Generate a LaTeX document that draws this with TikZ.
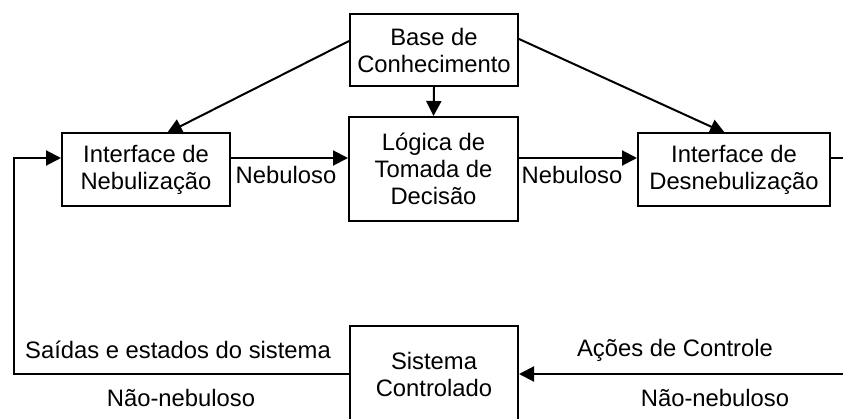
\documentclass[tikz,border=0pt]{standalone}
\usepackage{fontspec}
\setmainfont{Liberation Sans}
\usetikzlibrary{arrows.meta}
\begin{document}
\begin{tikzpicture}[x=1pt,y=-1pt,
  txt/.style={font=\fontsize{23.8}{27}\selectfont},
  box/.style={txt, draw, line width=2pt, inner sep=0pt, align=center},
  conn/.style={line width=2pt, -{Triangle[length=15pt,width=15pt]}},
  plain/.style={line width=2pt},
  lbl/.style={txt, inner sep=0pt}]
\useasboundingbox (0,0) rectangle (843,418);
\clip (0,0) rectangle (843,418);
\fill[white] (0,0) rectangle (843,418);
\node[box, minimum width=168pt, minimum height=72pt] (base) at (434,50) {Base de\\Conhecimento};
\node[box, minimum width=168pt, minimum height=73pt] (neb) at (146,169.5) {Interface de\\Nebulização};
\node[box, minimum width=169pt, minimum height=104pt] (log) at (433.5,169) {Lógica de\\Tomada de\\Decisão};
\node[box, minimum width=192pt, minimum height=73pt] (des) at (734,169.5) {Interface de\\Desnebulização};
\node[box, minimum width=168pt, minimum height=96pt] (sis) at (434,374) {Sistema\\Controlado};
% coordinates
\coordinate (bl) at (base.west |- 0,41);
\coordinate (br) at (base.east |- 0,39);
\coordinate (nt) at (167,133);
\coordinate (dt) at (725,133);
\coordinate (fbl) at (14,374);
\coordinate (fbt) at (14,158);
\coordinate (rout) at (850,158);
\coordinate (rin) at (850,374);
% connectors
\draw[conn] (bl) -- (nt);
\draw[conn] (br) -- (dt);
\draw[conn] (base.south) -- (log.north);
\draw[conn] (neb.east |- 0,158) -- (log.west |- 0,158);
\draw[conn] (log.east |- 0,158) -- (des.west |- 0,158);
\draw[plain] (des.east |- 0,158) -- (rout);
\draw[conn] (sis.west) -- (fbl) -- (fbt) -- (neb.west |- 0,158);
\draw[conn] (rin) -- (sis.east);
% labels
\node[lbl] (l1) at (286,175) {Nebuloso};
\node[lbl] (l2) at (572,175) {Nebuloso};
\node[lbl] (l3) at (178,350) {Saídas e estados do sistema};
\node[lbl] (l4) at (181,398) {Não-nebuloso};
\node[lbl] (l5) at (675,350) {Ações de Controle};
\node[lbl] (l6) at (715,398) {Não-nebuloso};
\end{tikzpicture}
\end{document}
